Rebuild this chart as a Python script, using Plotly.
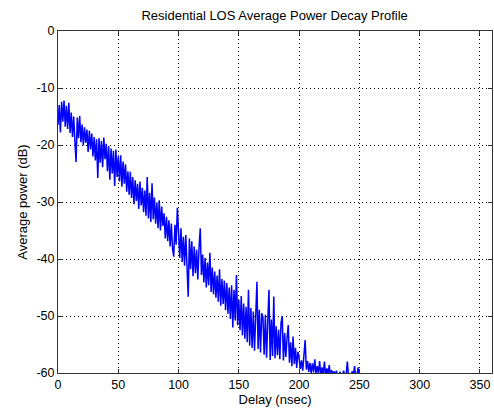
import plotly.graph_objects as go

# Delay axis in ns (1 ns sampling)
delay_ns = list(range(0, 255))

power_db = [
    # 0-9
    -16.5, -13.0, -17.8, -12.4, -15.9, -12.2, -16.8, -13.1, -17.2, -12.6,
    # 10-19
    -17.9, -14.3, -18.6, -15.0, -19.2, -23.0, -15.2, -18.8, -14.9, -19.5,
    # 20-29
    -16.4, -20.1, -16.9, -19.6, -17.3, -21.2, -17.5, -20.8, -18.0, -22.0,
    # 30-39
    -18.6, -22.7, -19.0, -25.8, -18.8, -23.1, -19.3, -23.9, -18.7, -22.5,
    # 40-49
    -19.8, -24.6, -20.2, -26.1, -20.6, -25.0, -21.0, -27.2, -20.8, -25.6,
    # 50-59
    -22.0, -26.4, -21.8, -27.3, -22.9, -26.8, -23.4, -28.2, -24.6, -28.7,
    # 60-69
    -24.7, -29.3, -25.6, -30.4, -26.2, -29.8, -26.8, -31.2, -26.4, -30.6,
    # 70-79
    -27.5, -31.8, -28.0, -32.4, -25.6, -32.9, -28.4, -33.5, -26.7, -33.0,
    # 80-89
    -29.2, -33.8, -30.1, -34.6, -29.7, -35.0, -30.8, -34.2, -32.0, -36.4,
    # 90-99
    -32.6, -36.9, -33.2, -37.8, -33.8, -38.2, -39.6, -34.0, -37.5, -31.0,
    # 100-109
    -35.2, -39.8, -34.6, -40.5, -36.1, -41.2, -35.8, -42.0, -46.6, -36.4,
    # 110-119
    -41.8, -36.9, -43.0, -37.8, -42.5, -38.4, -43.6, -38.0, -34.6, -42.8,
    # 120-129
    -39.2, -44.1, -39.8, -45.0, -40.6, -44.6, -38.9, -45.8, -41.5, -46.2,
    # 130-139
    -42.2, -46.8, -42.9, -47.5, -41.8, -48.2, -43.5, -47.9, -43.8, -49.0,
    # 140-149
    -44.2, -49.6, -45.0, -50.5, -44.6, -52.0, -45.4, -50.8, -42.8, -51.6,
    # 150-159
    -47.2, -52.5, -46.5, -53.4, -47.8, -54.0, -48.4, -54.6, -45.4, -55.2,
    # 160-169
    -48.6, -55.6, -49.2, -56.1, -47.5, -44.0, -55.8, -48.9, -56.4, -49.5,
    # 170-179
    -50.2, -56.8, -49.8, -57.3, -51.0, -45.4, -57.7, -50.6, -57.0, -46.6,
    # 180-189
    -57.4, -51.8, -56.9, -52.4, -57.6, -51.2, -50.0, -57.8, -53.0, -57.2,
    # 190-199
    -53.8, -51.6, -58.2, -54.6, -58.8, -53.6, -58.4, -55.6, -59.1, -56.3,
    # 200-209
    -57.4, -59.3, -57.8, -59.6, -56.9, -54.2, -59.4, -57.9, -59.8, -58.2,
    # 210-219
    -60.0, -58.3, -59.9, -57.6, -60.2, -58.8, -60.1, -57.9, -60.4, -59.0,
    # 220-229
    -60.3, -58.0, -60.5, -59.2, -60.2, -58.6, -60.6, -59.5, -60.4, -59.7,
    # 230-239
    -60.5, -59.6, -60.8, -60.2, -59.8, -60.7, -60.3, -59.6, -60.9, -60.4,
    # 240-249
    -58.0, -60.6, -60.2, -60.8, -59.7, -60.5, -58.8, -60.9, -60.3, -59.0,
    # 250-254
    -61.2, -60.6, -61.8, -62.0, -61.4,
]

x_ticks = [0, 50, 100, 150, 200, 250, 300, 350]
y_ticks = [0, -10, -20, -30, -40, -50, -60]

title_text = "Residential LOS Average Power Decay Profile"
x_title = "Delay (nsec)"
y_title = "Average power (dB)"

fig = go.Figure()
fig.add_trace(go.Scatter(
    x=delay_ns, y=power_db, mode="lines",
    line=dict(color="#0000FF", width=1.5),
    showlegend=False, hoverinfo="skip",
))

font_family = "Liberation Sans, Arial, sans-serif"

axis_common = dict(
    showgrid=True, gridcolor="black", griddash="1px,3px", gridwidth=1,
    zeroline=False, showline=True, linecolor="#333333", linewidth=1,
    mirror="ticks", ticks="inside", ticklen=4, tickcolor="#333333",
    tickfont=dict(family=font_family, size=12.5, color="black"),
)

fig.update_layout(
    width=494, height=412,
    margin=dict(l=58, r=2, t=31, b=39),
    paper_bgcolor="white", plot_bgcolor="white",
    title=dict(text=title_text, x=0.556, xanchor="center", y=0.962, yanchor="middle",
               font=dict(family=font_family, size=13, color="black")),
    xaxis=dict(range=[0, 360], tickvals=x_ticks, ticktext=[str(v) for v in x_ticks],
               title=dict(text=x_title, standoff=3,
                          font=dict(family=font_family, size=13, color="black")),
               **axis_common),
    yaxis=dict(range=[-60, 0], tickvals=y_ticks, ticktext=[str(v) for v in y_ticks],
               title=dict(text=y_title, standoff=5,
                          font=dict(family=font_family, size=13, color="black")),
               **axis_common),
)

fig.write_html(
    "out.html",
    config={"displayModeBar": False, "staticPlot": True},
    post_script="document.body.style.margin='0px';document.body.style.overflow='hidden';",
)
